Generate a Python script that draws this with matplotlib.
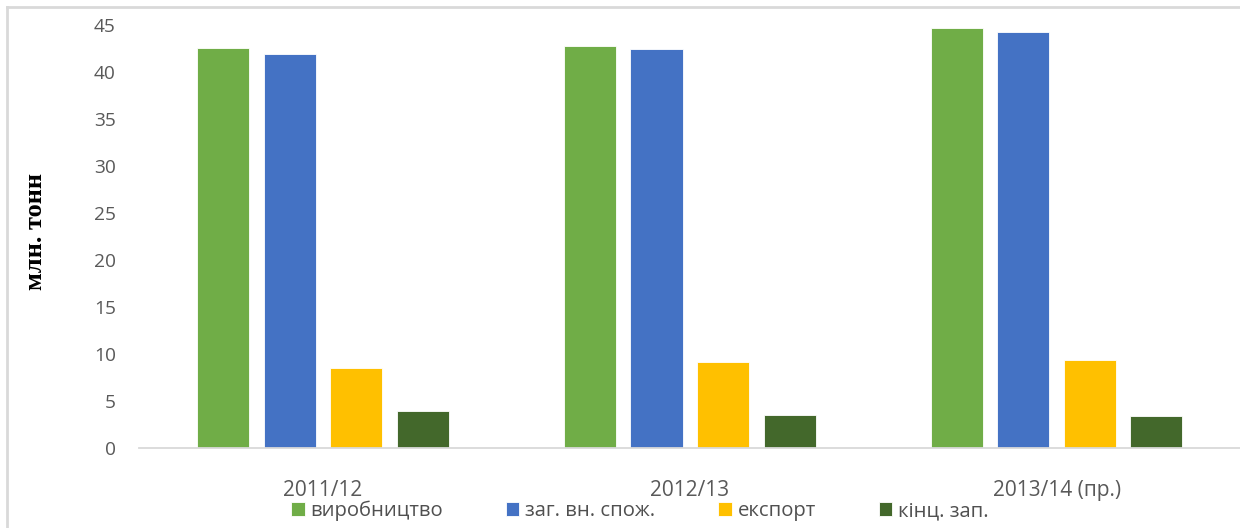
import matplotlib
matplotlib.use("Agg")
import matplotlib.pyplot as plt
from matplotlib.patches import Patch
from matplotlib.lines import Line2D
import numpy as np

# data, million tonnes
seasons = ['2011/12', '2012/13', '2013/14 (пр.)']
series = ['виробництво', 'заг. вн. спож.', 'експорт', 'кінц. зап.']
production = [42.6, 42.8, 44.7]
consumption = [41.9, 42.5, 44.3]
export = [8.5, 9.2, 9.4]
end_stocks = [3.9, 3.5, 3.4]
yticks = [0, 5, 10, 15, 20, 25, 30, 35, 40, 45]

colors = ['#70AD47', '#4472C4', '#FFC000', '#43682B']
values = [production, consumption, export, end_stocks]

plt.rcParams['font.family'] = ['Open Sans', 'DejaVu Sans']

fig = plt.figure(figsize=(12.4, 5.28), dpi=100)
ax = fig.add_axes([139.5 / 1240, 1 - 448 / 528, 1 - 139.5 / 1240, (448 - 25) / 528])

x = np.arange(len(seasons))
width = 0.142
step = 0.1815
for i, (vals, c) in enumerate(zip(values, colors)):
    ax.bar(x + (i - 1.5) * step, vals, width, color=c, edgecolor='white',
           linewidth=0.6, label=series[i], zorder=2)

ax.set_xlim(-0.5, 2.5)
ax.set_ylim(0, 45)
ax.set_yticks(yticks)
ax.set_xticks(x)
ax.set_xticklabels(seasons)
for s in ['top', 'right', 'left']:
    ax.spines[s].set_visible(False)
ax.spines['bottom'].set_color('#d9d9d9')
ax.spines['bottom'].set_linewidth(1.3)
ax.tick_params(axis='both', length=0, colors='#595959')
ax.tick_params(axis='y', pad=17, labelsize=13.8)
ax.tick_params(axis='x', pad=23, labelsize=15)

fig.text(35 / 1240, 1 - 231 / 528, 'млн. тонн', rotation=90, ha='center', va='center',
         family=['Liberation Serif', 'DejaVu Serif'], fontweight='bold', fontsize=19)

handles = [Patch(facecolor=c, edgecolor='white', linewidth=0.6) for c in colors]
leg = fig.legend(handles, series, loc='center', bbox_to_anchor=(640 / 1240, 1 - 511 / 528),
                 ncol=4, frameon=False, fontsize=14.6, handlelength=0.65, handleheight=0.65,
                 handletextpad=0.3, columnspacing=3.1, borderaxespad=0)
for t in leg.get_texts():
    t.set_color('#505050')

# chart area border (top and left edges visible)
fig.add_artist(Line2D([7 / 1240, 1], [1 - 7 / 528, 1 - 7 / 528], color='#d9d9d9', lw=2,
                      transform=fig.transFigure))
fig.add_artist(Line2D([7 / 1240, 7 / 1240], [0, 1 - 7 / 528], color='#d9d9d9', lw=2,
                      transform=fig.transFigure))

fig.savefig('out.png', dpi=100)
